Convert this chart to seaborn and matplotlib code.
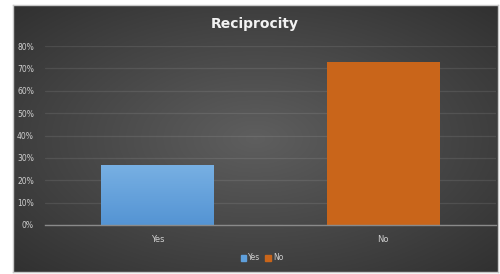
import numpy as np
import pandas as pd
import matplotlib
matplotlib.use("Agg")
import matplotlib.pyplot as plt
import seaborn as sns
from matplotlib.patches import Patch
from matplotlib.ticker import PercentFormatter

# Chart data
categories = ['Yes', 'No']
shares = [27, 73]
bar_colors = ['#5fa0dc', '#c9651a']
y_ticks = [0, 10, 20, 30, 40, 50, 60, 70, 80]

df = pd.DataFrame({'answer': categories, 'share': shares})

sns.set_theme(style='dark')
plt.rcParams['font.family'] = ['DejaVu Sans']

W, H = 500, 274
fig = plt.figure(figsize=(W / 100, H / 100), dpi=100)
fig.patch.set_facecolor('white')

# --- dark radial gradient background of the chart area ---
x0, y0, x1, y1 = 13, 5, 498, 272
bg = fig.add_axes([x0 / W, 1 - y1 / H, (x1 - x0) / W, (y1 - y0) / H])
yy, xx = np.mgrid[-1:1:200j, -1:1:300j]
r = np.sqrt(xx ** 2 + yy ** 2) / np.sqrt(2)
grad = 0.37 - 0.18 * r
bg.imshow(np.dstack([grad, grad, grad]), aspect='auto', extent=[0, 1, 0, 1])
bg.set_xticks([])
bg.set_yticks([])
for s in bg.spines.values():
    s.set_color('#c8c8c8')
    s.set_linewidth(1.0)

# --- main bar plot ---
px0, px1 = 45, 496
py_top, py_bot = 46, 225
ax = fig.add_axes([px0 / W, 1 - py_bot / H, (px1 - px0) / W, (py_bot - py_top) / H])
ax.patch.set_alpha(0)
sns.barplot(data=df, x='answer', y='share', hue='answer', palette=bar_colors,
            saturation=1, width=0.5, legend=False, ax=ax)
for p in ax.patches:
    p.set_edgecolor('none')

# light-to-dark vertical gradient on the "Yes" bar
yes_bar = ax.patches[0]
bx, bw, bh = yes_bar.get_x(), yes_bar.get_width(), yes_bar.get_height()
top_c = np.array([0.47, 0.69, 0.89])
bot_c = np.array([0.33, 0.58, 0.83])
t = np.linspace(0, 1, 100)[:, None]
img = (top_c * (1 - t) + bot_c * t)[:, None, :]
im = ax.imshow(img, aspect='auto', extent=[bx, bx + bw, 0, bh], zorder=yes_bar.get_zorder() + 0.1)
im.set_clip_path(yes_bar)

ax.set_ylim(0, 80)
ax.set_yticks(y_ticks)
ax.yaxis.set_major_formatter(PercentFormatter(decimals=0))
ax.set_xlim(-0.5, 1.5)
ax.set_xlabel('')
ax.set_ylabel('')
ax.grid(axis='y', color='white', alpha=0.09, linewidth=0.9)
ax.grid(axis='x', visible=False)
ax.set_axisbelow(True)
for name, s in ax.spines.items():
    s.set_visible(name == 'bottom')
ax.spines['bottom'].set_color('#8a8a8a')
ax.spines['bottom'].set_linewidth(1.0)
ax.tick_params(axis='y', colors='#cfcfcf', labelsize=5.5, length=0, pad=8)
ax.tick_params(axis='x', colors='#cfcfcf', labelsize=6, length=0, pad=7)

fig.text(0.51, 1 - 24 / H, 'Reciprocity', ha='center', va='center',
         color='#f2f2f2', fontsize=10, fontweight='bold')

handles = [Patch(facecolor=c, edgecolor=c) for c in bar_colors]
fig.legend(handles, categories, loc='center', bbox_to_anchor=(262 / W, 1 - 258 / H),
           ncol=2, frameon=False, fontsize=5.5, labelcolor='#cfcfcf',
           handlelength=0.7, handleheight=0.7, handletextpad=0.3, columnspacing=0.6)

fig.savefig('out.png', dpi=100)
